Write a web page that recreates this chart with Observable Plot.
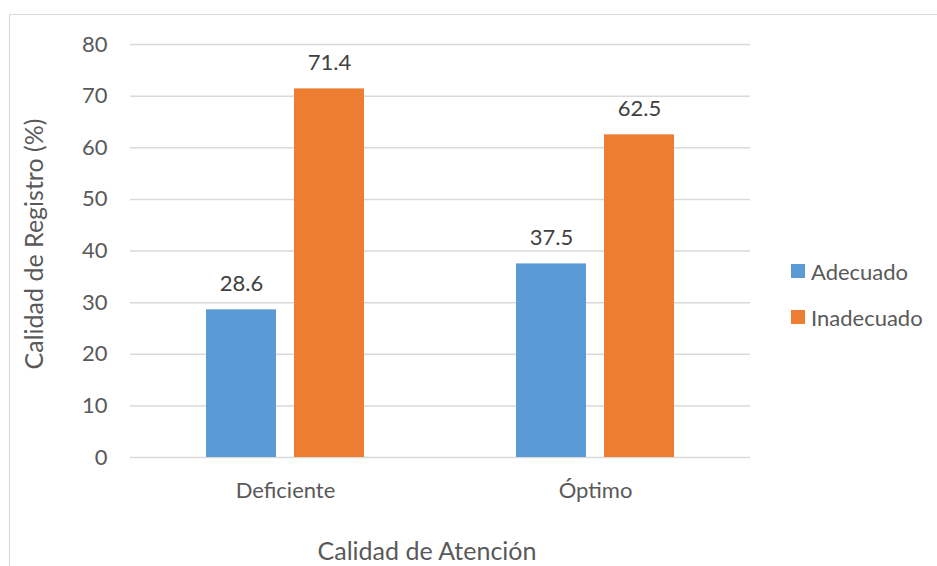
<!DOCTYPE html>
<html>
<head>
<meta charset="utf-8">
<script src="https://cdn.jsdelivr.net/npm/d3@7"></script>
<script src="https://cdn.jsdelivr.net/npm/@observablehq/plot@0.6"></script>
<style>
  body { margin: 0; background: #fff; }
  #wrap { position: relative; width: 937px; height: 566px; overflow: hidden; font-family: Lato, "Open Sans", sans-serif; color: #595959; }
  #frame { position: absolute; left: 9px; top: 14px; width: 1000px; height: 640px; border: 1.5px solid #d9d9d9; box-sizing: border-box; }
  #chart { position: absolute; left: 0; top: 0; }
  .title { position: absolute; font-size: 25px; line-height: 28px; white-space: nowrap; }
  #ytitle { left: 33px; top: 244px; transform: translate(-50%, -50%) rotate(-90deg); }
  #xtitle { left: 427px; top: 550px; transform: translate(-50%, -50%); }
  #legend { position: absolute; left: 791px; top: 258px; font-size: 22px; }
  .item { display: flex; align-items: center; height: 26px; margin-bottom: 20px; }
  .swatch { width: 14px; height: 14px; margin-right: 6px; }
</style>
</head>
<body>
<div id="wrap">
  <div id="frame"></div>
  <div id="chart"></div>
  <div class="title" id="ytitle">Calidad de Registro (%)</div>
  <div class="title" id="xtitle">Calidad de Atención</div>
  <div id="legend"></div>
</div>
<script>
// Calidad de atención vs. calidad de registro (%)
const categories = ["Deficiente", "Óptimo"];
const series = ["Adecuado", "Inadecuado"];
const adecuado = [28.6, 37.5];
const inadecuado = [71.4, 62.5];
const yTicks = [0, 10, 20, 30, 40, 50, 60, 70, 80];
const colors = ["#5B9BD5", "#ED7D31"];

const rows = categories.flatMap((cat, i) => [
  {cat, serie: series[0], value: adecuado[i]},
  {cat, serie: series[1], value: inadecuado[i]}
]);

const chart = Plot.plot({
  width: 937,
  height: 566,
  marginLeft: 130,
  marginRight: 187,
  marginTop: 44,
  marginBottom: 109,
  style: {fontFamily: "Lato, 'Open Sans', sans-serif", fontSize: "22px", color: "#595959", background: "transparent"},
  fx: {domain: categories, padding: 0, axis: "bottom", label: null, tickSize: 0, tickPadding: 25},
  x: {domain: series, paddingInner: 0.2045, paddingOuter: 0.8636, axis: null},
  y: {domain: [0, 80], ticks: yTicks, tickSize: 0, tickPadding: 23, label: null, grid: false},
  color: {domain: series, range: colors},
  marks: [
    Plot.ruleY(yTicks, {stroke: "#d9d9d9", strokeWidth: 1.5}),
    Plot.barY(rows, {fx: "cat", x: "serie", y: "value", fill: "serie"}),
    Plot.text(rows, {
      fx: "cat", x: "serie", y: "value",
      text: d => d.value.toFixed(1),
      dy: -26, fontSize: 22, fill: "#404040"
    })
  ]
});
document.getElementById("chart").appendChild(chart);

const legend = document.getElementById("legend");
series.forEach((s, i) => {
  const item = document.createElement("div");
  item.className = "item";
  item.innerHTML = `<span class="swatch" style="background:${colors[i]}"></span><span>${s}</span>`;
  legend.appendChild(item);
});
</script>
</body>
</html>
